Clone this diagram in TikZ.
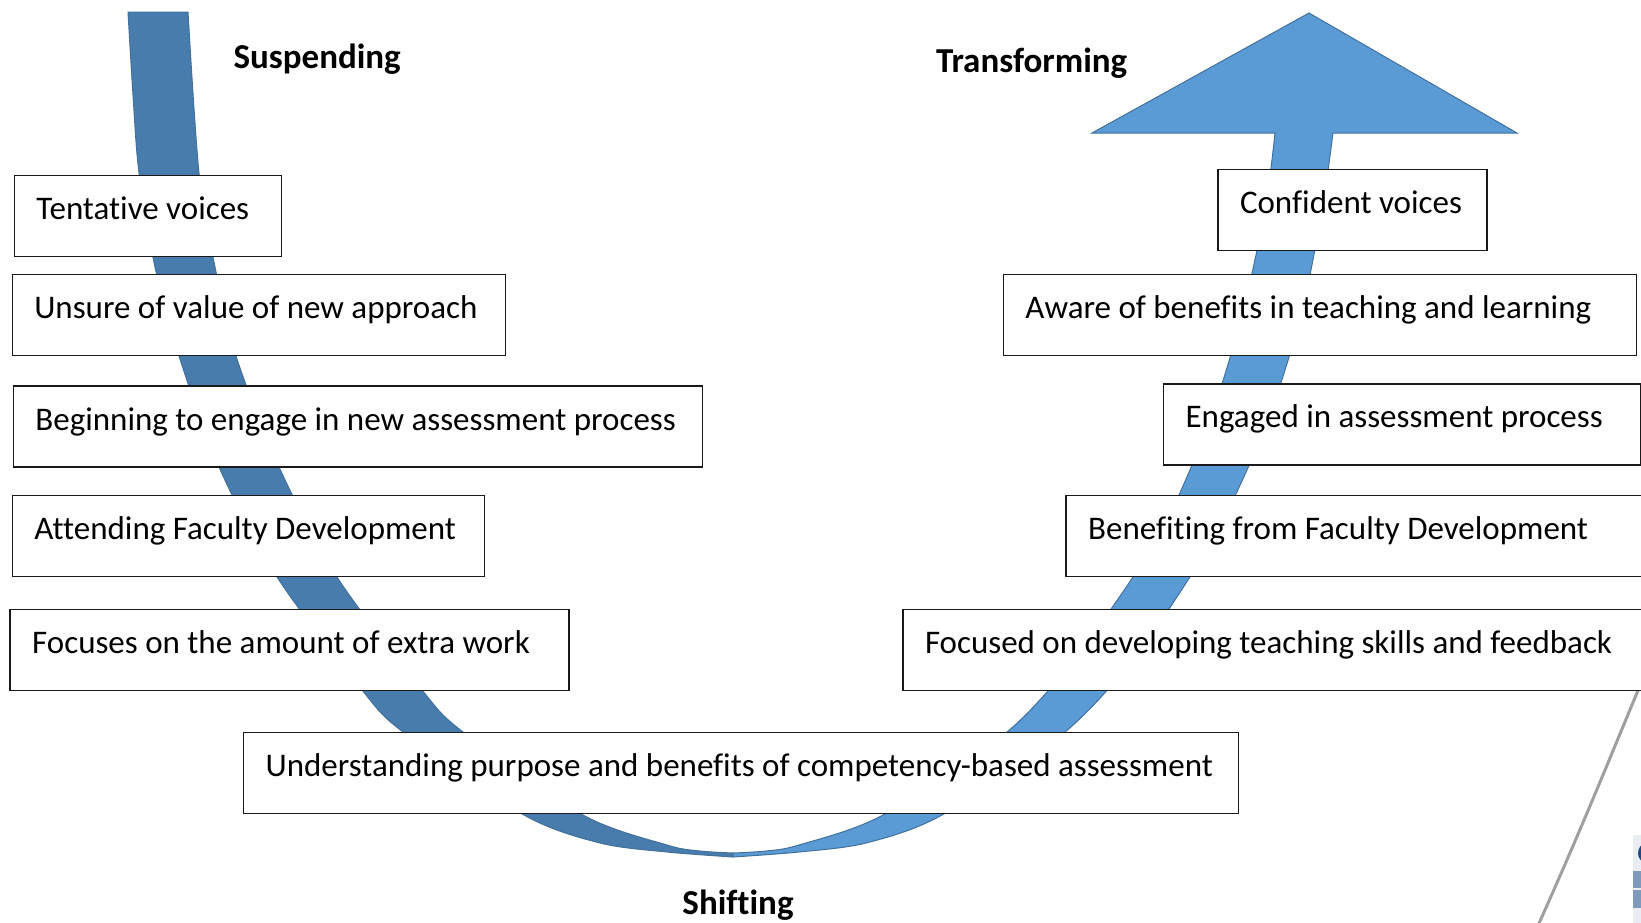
\documentclass[tikz,border=0pt]{standalone}
\usepackage{fontspec}
\setmainfont{Carlito}[Ligatures=NoCommon]
\usepackage{tikz}
\usetikzlibrary{positioning}
\definecolor{bandback}{RGB}{72,124,173}
\definecolor{bandfront}{RGB}{91,155,213}
\definecolor{bandline}{RGB}{65,113,156}
\definecolor{pale}{RGB}{233,236,241}
\definecolor{navy}{RGB}{31,73,125}
\definecolor{steel}{RGB}{125,153,187}

\begin{document}
\begin{tikzpicture}[x=1pt, y=-1pt,
    stage/.style={draw=black!90, line width=1.6pt, fill=white, anchor=west,
        inner xsep=22pt, inner ysep=0pt, align=flush left,
        execute at begin node={\spaceskip=0pt\xspaceskip=0pt},
        text height=44pt, text depth=37pt, font=\fontsize{33}{40}\selectfont},
    phase/.style={font=\fontsize{35}{42}\selectfont\bfseries},
    band/.style={draw=bandline, line width=1pt}]
    \useasboundingbox (0,0) rectangle (1641,922);

    % the U: falling half, then rising half with its head
    \filldraw[band, fill=bandback]
        plot[smooth] coordinates {(128,12) (133,95) (139,173) (155,267) (179,356) (219,467) (277,577) (362,690) (403,732) (524,815) (600,843) (667,852) (733,857)}
        -- plot[smooth] coordinates {(733,853) (700,851) (667,845) (583,815) (463,732) (422,690) (337,577) (279,467) (236,356) (215,267) (199,173) (188,12)}
        -- cycle;
    \filldraw[band, fill=bandfront]
        plot[smooth] coordinates {(733,857) (799,852) (866,843) (942,815) (1065,732) (1140,650) (1214,537) (1266,425) (1301,315) (1322,210) (1333,133)}
        -- (1517,133) -- (1309,13) -- (1092,133)
        -- plot[smooth] coordinates {(1275,133) (1265,210) (1242,315) (1208,425) (1158,537) (1081,650) (1007,732) (883,815) (799,845) (766,851) (733,853)}
        -- cycle;

    % edge of the next figure
    \draw[gray!75, line width=3pt] (1655,650) .. controls (1625,720) and (1590,810) .. (1536,930);
    \fill[pale] (1632.7,834.7) rectangle (1645,925);
    \fill[navy] (1647,853) ellipse [x radius=9pt, y radius=10pt];
    \fill[steel] (1632.7,871.3) rectangle (1645,888);
    \fill[steel] (1632.7,890.3) rectangle (1645,908);

    \node[stage, text width=223pt] (tv) at (13.6,216.1) {Tentative voices};
    \node[stage, text width=449pt] (un) at (11.5,315) {Unsure of value of new approach};
    \node[stage, text width=645pt] (bg) at (12.6,426.5) {Beginning to engage in new assessment process};
    \node[stage, text width=428pt] (at) at (11.5,535.8) {Attending Faculty Development};
    \node[stage, text width=515pt] (fo) at (9.4,650) {Focuses on the amount of extra work};
    \node[stage, text width=951pt] (ud) at (242.8,772.9) {Understanding purpose and benefits of competency-based assessment};

    \node[stage, text width=225pt] (cv) at (1217.2,209.8) {Confident voices};
    \node[stage, text width=589pt] (aw) at (1002.6,315) {Aware of benefits in teaching and learning};
    \node[stage, text width=433pt] (en) at (1162.8,424.4) {Engaged in assessment process};
    \node[stage, text width=596pt] (bf) at (1065.4,535.8) {Benefiting from Faculty Development};
    \node[stage, text width=756pt] (fd) at (902.2,650) {Focused on developing teaching skills and feedback};

    \node[phase, anchor=base west] (sus) at (230,68) {Suspending};
    \node[phase, anchor=base west] (tra) at (932.5,72) {Transforming};
    \node[phase, anchor=base] (shi) at (738,914) {Shifting};
\end{tikzpicture}
\end{document}
